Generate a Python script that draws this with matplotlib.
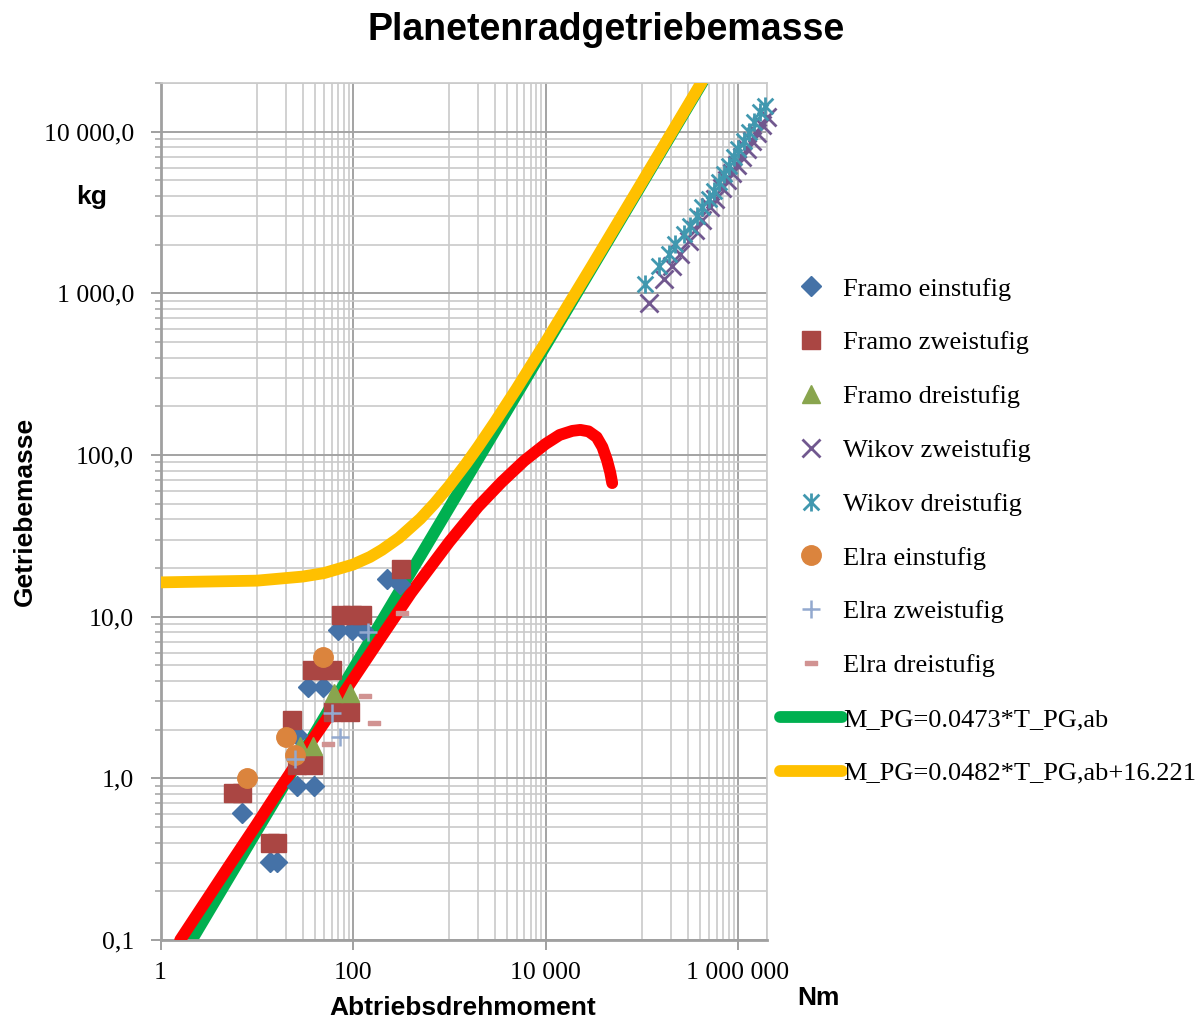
import matplotlib
matplotlib.use("Agg")
import matplotlib.pyplot as plt
from matplotlib.path import Path
from matplotlib.ticker import FixedLocator, FixedFormatter, NullFormatter

# ---------------- data ----------------
framo1_T = [7.0, 13.8, 16.1, 26.0, 26.4, 39.5, 34.2, 49.2, 70.5, 97.2, 128, 224, 309]
framo1_M = [0.61, 0.305, 0.305, 1.85, 0.90, 0.90, 3.66, 3.66, 8.24, 8.24, 8.24, 17.2, 16.0]

framo2_T = [5.7, 7.0, 13.7, 16.1, 23.4, 26.0, 38.0, 37.3, 47.2, 59.8, 62.7, 93.0, 75, 97, 125, 314]
framo2_M = [0.81, 0.81, 0.40, 0.40, 2.30, 1.21, 1.21, 4.67, 4.67, 4.67, 2.58, 2.58, 10.2, 10.2, 10.2, 19.8]

framo3_T = [28.3, 38.7, 63.7, 93.0]
framo3_M = [1.58, 1.58, 3.35, 3.35]

wikov2_T = [1.18e5, 1.69e5, 2.06e5, 2.51e5, 3.07e5, 3.60e5, 4.23e5, 5.15e5, 5.81e5, 6.82e5,
            7.69e5, 8.67e5, 9.77e5, 1.10e6, 1.24e6, 1.40e6, 1.58e6, 1.78e6, 2.0e6]
wikov2_M = [869, 1220, 1470, 1760, 2120, 2460, 2860, 3430, 3840, 4460,
            4990, 5580, 6240, 6970, 7800, 8740, 9800, 11000, 12300]

wikov3_T = [1.09e5, 1.50e5, 1.90e5, 2.23e5, 2.72e5, 3.19e5, 3.75e5, 4.23e5, 4.95e5, 5.57e5,
            6.28e5, 7.08e5, 7.98e5, 9.0e5, 1.01e6, 1.14e6, 1.29e6, 1.45e6, 1.71e6, 1.92e6]
wikov3_M = [1146, 1486, 1754, 2023, 2333, 2626, 3025, 3406, 3837, 4318,
            4862, 5481, 6170, 6940, 7816, 8790, 9900, 11400, 13150, 14490]

elra1_T = [8.0, 20.0, 24.9, 49.2]
elra1_M = [1.0, 1.81, 1.40, 5.64]

elra2_T = [25.0, 60.0, 73.5, 144]
elra2_M = [1.32, 2.52, 1.81, 8.04]

elra3_T = [55.6, 133, 166, 326]
elra3_M = [1.62, 3.22, 2.21, 10.5]

green_T = [1, 10, 100, 1000, 10000, 100000, 1000000]
green_M = [0.0473, 0.473, 4.73, 47.3, 473, 4730, 47300]

yellow_T = [1, 10, 30, 50, 100, 150, 200, 300, 500, 700, 1000, 1500, 2000, 3000, 5000,
            10000, 30000, 100000, 420000]
yellow_M = [16.3, 16.7, 17.7, 18.6, 21.0, 23.4, 25.9, 30.7, 40.3, 50.0, 64.4, 88.5, 112.6,
            160.8, 257, 498, 1462, 4836, 20260]

red_T = [1.6, 5, 10, 18, 30, 50, 100, 200, 400, 1000, 2000, 3500, 6000, 10000, 14000,
         19000, 23000, 28000, 34000, 39000, 43500, 47000, 49300]
red_M = [0.1, 0.28, 0.52, 0.89, 1.41, 2.2, 4.1, 7.6, 14.0, 29.0, 48, 68, 92, 117, 133,
         141, 143, 140, 129, 112, 93, 78, 67]

x_ticks = [1, 100, 10000, 1000000]
x_ticklabels = ["1", "100", "10 000", "1 000 000"]
y_ticks = [0.1, 1, 10, 100, 1000, 10000]
y_ticklabels = ["0,1", "1,0", "10,0", "100,0", "1 000,0", "10 000,0"]

labels = ["Framo einstufig", "Framo zweistufig", "Framo dreistufig", "Wikov zweistufig",
          "Wikov dreistufig", "Elra einstufig", "Elra zweistufig", "Elra dreistufig",
          "M_PG=0.0473*T_PG,ab", "M_PG=0.0482*T_PG,ab+16.221"]

# ---------------- styling ----------------
SERIF = ["Liberation Serif", "DejaVu Serif"]
SANS = ["Liberation Sans", "DejaVu Sans"]

W, H = 1203, 1021
fig = plt.figure(figsize=(W / 100, H / 100), dpi=100)
L, R, T, B = 160.5, 767, 83, 940
ax = fig.add_axes([L / W, 1 - B / H, (R - L) / W, (B - T) / H])
ax.set_xscale("log")
ax.set_yscale("log")
ax.set_xlim(1, 2e6)
ax.set_ylim(0.1, 2e4)

# ticks and grid
ax.xaxis.set_major_locator(FixedLocator(x_ticks))
ax.xaxis.set_major_formatter(FixedFormatter(x_ticklabels))
ax.yaxis.set_major_locator(FixedLocator(y_ticks))
ax.yaxis.set_major_formatter(FixedFormatter(y_ticklabels))
xminor = [k * 10 ** e for e in (1, 3, 5) for k in range(1, 10)] + [2e6]
yminor = [k * 10 ** e for e in range(-1, 5) for k in range(2, 10) if k * 10 ** e <= 2e4]
ax.xaxis.set_minor_locator(FixedLocator(xminor))
ax.yaxis.set_minor_locator(FixedLocator(yminor))
ax.xaxis.set_minor_formatter(NullFormatter())
ax.yaxis.set_minor_formatter(NullFormatter())

ax.grid(which="major", color="#A3A3A3", lw=1.4, zorder=0)
ax.grid(which="minor", color="#CACACA", lw=1.2, zorder=0)
ax.set_axisbelow(True)

ax.tick_params(axis="both", which="major", direction="out", length=7, width=1.4,
               color="#A0A0A0", labelsize=18.5)
ax.tick_params(axis="y", which="major", pad=12)
ax.tick_params(axis="x", which="major", pad=9)
ax.tick_params(axis="y", which="minor", direction="out", length=4, width=1.1, color="#A0A0A0")
ax.tick_params(axis="x", which="minor", length=0)
for lab in ax.get_xticklabels() + ax.get_yticklabels():
    lab.set_fontfamily(SERIF)

for side in ("left", "bottom"):
    ax.spines[side].set_color("#A0A0A0")
    ax.spines[side].set_linewidth(2.0)
for side in ("top", "right"):
    ax.spines[side].set_color("#CACACA")
    ax.spines[side].set_linewidth(1.2)

# lines
LW = 8.5
lg, = ax.plot(green_T, green_M, color="#00B050", lw=LW, solid_capstyle="round", zorder=2,
              label=labels[8])
ly, = ax.plot(yellow_T, yellow_M, color="#FFC000", lw=LW, solid_capstyle="round", zorder=3,
              label=labels[9])
ax.plot(red_T, red_M, color="#FF0000", lw=LW, solid_capstyle="round",
        solid_joinstyle="round", zorder=4)

# markers
star = Path([(-1, -1), (1, 1), (-1, 1), (1, -1), (0, -1.15), (0, 1.15)],
            [Path.MOVETO, Path.LINETO, Path.MOVETO, Path.LINETO, Path.MOVETO, Path.LINETO])
dash = Path([(-1, -0.42), (1, -0.42), (1, 0.42), (-1, 0.42), (-1, -0.42)],
            [Path.MOVETO, Path.LINETO, Path.LINETO, Path.LINETO, Path.CLOSEPOLY])

kw = dict(ls="none", clip_on=False, zorder=5)
h1, = ax.plot(framo1_T, framo1_M, marker="D", ms=9.8, color="#4572A7", mec="#4572A7", label=labels[0], **kw)
h2, = ax.plot(framo2_T, framo2_M, marker="s", ms=13.5, color="#AA4643", mec="#AA4643", label=labels[1], **kw)
h3, = ax.plot(framo3_T, framo3_M, marker="^", ms=13.5, color="#89A54E", mec="#89A54E", label=labels[2], **kw)
h4, = ax.plot(wikov2_T, wikov2_M, marker="x", ms=13, mew=2.0, color="#71588F", label=labels[3], **kw)
h5, = ax.plot(wikov3_T, wikov3_M, marker=star, ms=13, mew=2.0, mfc="none", color="#4198AF",
              mec="#4198AF", label=labels[4], **kw)
h6, = ax.plot(elra1_T, elra1_M, marker="o", ms=14, color="#DB843D", mec="#DB843D", label=labels[5], **kw)
h7, = ax.plot(elra2_T, elra2_M, marker="+", ms=12.5, mew=1.8, color="#93A9CF", label=labels[6], **kw)
h8, = ax.plot(elra3_T, elra3_M, marker=dash, ms=8, color="#D19392", mec="#D19392", label=labels[7], **kw)

leg = fig.legend(handles=[h1, h2, h3, h4, h5, h6, h7, h8, lg, ly], labels=labels,
                 loc="center left", bbox_to_anchor=(780 / W, 1 - 531 / H),
                 frameon=False, prop={"family": SERIF, "size": 19},
                 handlelength=2.35, handletextpad=0.05, labelspacing=1.15,
                 borderpad=0, borderaxespad=0, numpoints=1)

# texts
fig.text(606 / W, 1 - 30 / H, "Planetenradgetriebemasse", ha="center", va="center",
         fontsize=27, fontweight="bold", family=SANS)
fig.text(25 / W, 1 - 511 / H, "Getriebemasse", rotation=90, ha="center", va="center",
         fontsize=19, fontweight="bold", family=SANS)
fig.text(463 / W, 1 - 1008 / H, "Abtriebsdrehmoment", ha="center", va="center",
         fontsize=19, fontweight="bold", family=SANS)
fig.text(92 / W, 1 - 197 / H, "kg", ha="center", va="center",
         fontsize=19, fontweight="bold", family=SANS)
fig.text(818 / W, 1 - 998 / H, "Nm", ha="center", va="center",
         fontsize=19, fontweight="bold", family=SANS)

fig.savefig("out.png", dpi=100)
